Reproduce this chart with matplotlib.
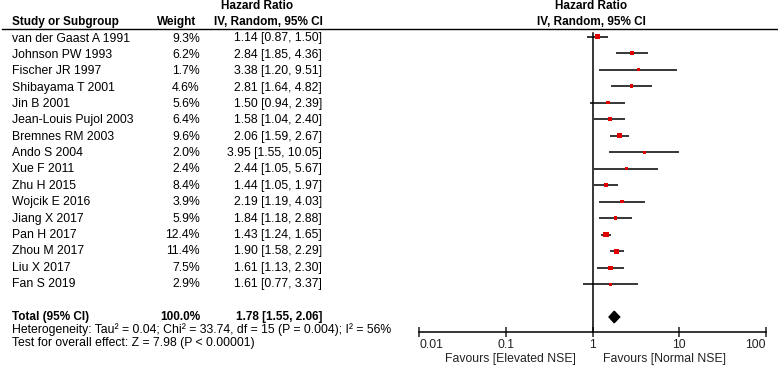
import matplotlib
matplotlib.use("Agg")
import matplotlib.pyplot as plt
import numpy as np

plt.rcParams['font.family'] = ['Liberation Sans', 'DejaVu Sans']

studies = ["van der Gaast A 1991", "Johnson PW 1993", "Fischer JR 1997", "Shibayama T 2001",
           "Jin B 2001", "Jean-Louis Pujol 2003", "Bremnes RM 2003", "Ando S 2004",
           "Xue F 2011", "Zhu H 2015", "Wojcik E 2016", "Jiang X 2017", "Pan H 2017",
           "Zhou M 2017", "Liu X 2017", "Fan S 2019"]
weights = [9.3, 6.2, 1.7, 4.6, 5.6, 6.4, 9.6, 2.0, 2.4, 8.4, 3.9, 5.9, 12.4, 11.4, 7.5, 2.9]
hr = [1.14, 2.84, 3.38, 2.81, 1.50, 1.58, 2.06, 3.95, 2.44, 1.44, 2.19, 1.84, 1.43, 1.90, 1.61, 1.61]
lo = [0.87, 1.85, 1.20, 1.64, 0.94, 1.04, 1.59, 1.55, 1.05, 1.05, 1.19, 1.18, 1.24, 1.58, 1.13, 0.77]
hi = [1.50, 4.36, 9.51, 4.82, 2.39, 2.40, 2.67, 10.05, 5.67, 1.97, 4.03, 2.88, 1.65, 2.29, 2.30, 3.37]
total_weight = 100.0
total_hr, total_lo, total_hi = 1.78, 1.55, 2.06
xticks = [0.01, 0.1, 1, 10, 100]
xticklabels = ["0.01", "0.1", "1", "10", "100"]
het_text = "Heterogeneity: Tau\u00b2 = 0.04; Chi\u00b2 = 33.74, df = 15 (P = 0.004); I\u00b2 = 56%"
test_text = "Test for overall effect: Z = 7.98 (P < 0.00001)"
fav_left = "Favours [Elevated NSE]"
fav_right = "Favours [Normal NSE]"

W, H = 778, 369
fig = plt.figure(figsize=(W / 100, H / 100), dpi=100)

# row geometry (pixel p -> row r) for marks
p0, dp = 36.5, 16.52
def row(p):
    return (p - p0) / dp

# text rows sit slightly differently than the marks
t0, tdp = 38.5, 16.37
def trow(i):
    return row(t0 + tdp * i)

fs = 8.8
fsb = 8.5
n = len(studies)
total_row = row(317)

# table axes spanning full figure
tab = fig.add_axes([0, 0, 1, 1])
tab.set_xlim(0, W)
tab.set_ylim(row(H), row(0))
tab.axis('off')

# forest axes
top_p, bot_p = 28, 332
left_p, right_p = 419, 766
fax = fig.add_axes([left_p / W, 1 - bot_p / H, (right_p - left_p) / W, (bot_p - top_p) / H])
fax.set_xscale('log')
fax.set_xlim(0.01, 100)
fax.set_ylim(row(bot_p), row(top_p))
fax.patch.set_alpha(0)
for s in ['top', 'right', 'left']:
    fax.spines[s].set_visible(False)
fax.spines['bottom'].set_linewidth(1.1)
fax.set_yticks([])
fax.set_xticks(xticks)
fax.set_xticklabels(xticklabels, fontsize=fs)
fax.minorticks_off()
fax.tick_params(axis='x', direction='inout', length=7, width=1.1, pad=1.5, colors='#222222')
labs = fax.get_xticklabels()
labs[0].set_ha('left')
labs[-1].set_ha('right')

# header
tab.text(12, row(22), "Study or Subgroup", fontsize=fsb, fontweight='bold', ha='left', va='center')
tab.text(196, row(22), "Weight", fontsize=fsb, fontweight='bold', ha='right', va='center')
tab.text(257, row(6), "Hazard Ratio", fontsize=fsb, fontweight='bold', ha='center', va='center')
tab.text(268, row(22), "IV, Random, 95% CI", fontsize=fsb, fontweight='bold', ha='center', va='center')
tab.text(591, row(6), "Hazard Ratio", fontsize=fsb, fontweight='bold', ha='center', va='center')
tab.text(591, row(22), "IV, Random, 95% CI", fontsize=fsb, fontweight='bold', ha='center', va='center')
tab.plot([2, 777], [row(28.5), row(28.5)], color='black', lw=1.0)

# study rows
for i in range(n):
    ty = trow(i)
    tab.text(12, ty, studies[i], fontsize=fs, ha='left', va='center')
    tab.text(200, ty, f"{weights[i]:.1f}%", fontsize=fs, ha='right', va='center')
    tab.text(322, ty, f"{hr[i]:.2f} [{lo[i]:.2f}, {hi[i]:.2f}]", fontsize=fs, ha='right', va='center')

tab.text(12, total_row, "Total (95% CI)", fontsize=fsb, fontweight='bold', ha='left', va='center')
tab.text(200, total_row, f"{total_weight:.1f}%", fontsize=fsb, fontweight='bold', ha='right', va='center')
tab.text(322, total_row, f"{total_hr:.2f} [{total_lo:.2f}, {total_hi:.2f}]", fontsize=fsb,
         fontweight='bold', ha='right', va='center')
tab.text(12, row(329.5), het_text, fontsize=fs, ha='left', va='center')
tab.text(12, row(342.5), test_text, fontsize=fs, ha='left', va='center')
tab.text(576, row(359), fav_left, fontsize=fs, ha='right', va='center', color='#222222')
tab.text(603, row(359), fav_right, fontsize=fs, ha='left', va='center', color='#222222')

# forest marks
fax.plot([1, 1], [row(33), row(bot_p)], color='black', lw=1.1, clip_on=False)
ys = np.arange(n)
fax.hlines(ys, lo, hi, color='black', lw=1.1)
fax.scatter(hr, ys, s=np.array(weights) * 0.9 + 2.5, marker='s', color='#e00000', zorder=3, linewidths=0)
dh = 0.35
fax.fill([total_lo, total_hr, total_hi, total_hr],
         [total_row, total_row - dh, total_row, total_row + dh], color='black', zorder=3)

fig.savefig("out.png", dpi=100)
